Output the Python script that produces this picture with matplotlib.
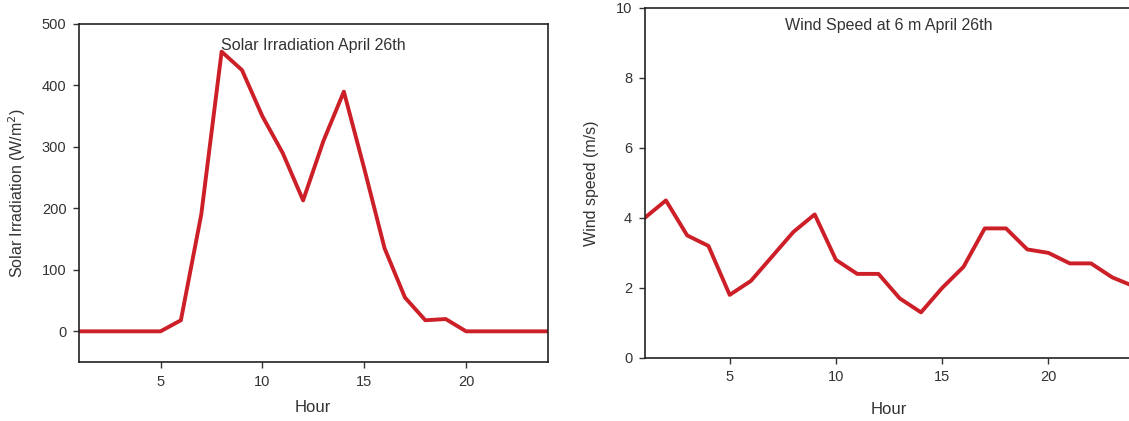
import matplotlib
matplotlib.use("Agg")
from matplotlib import pyplot as plt

plt.rcParams['font.family'] = ['Liberation Sans', 'DejaVu Sans']

hours = list(range(1, 25))
solar = [0, 0, 0, 0, 0, 18, 190, 455, 425, 350, 290, 213,
         310, 390, 265, 135, 55, 18, 20, 0, 0, 0, 0, 0]
wind = [4.0, 4.5, 3.5, 3.2, 1.8, 2.2, 2.9, 3.6, 4.1, 2.8, 2.4, 2.4,
        1.7, 1.3, 2.0, 2.6, 3.7, 3.7, 3.1, 3.0, 2.7, 2.7, 2.3, 2.05]

red = '#cc1f27'
txt = '#333333'

fig = plt.figure(figsize=(11.29, 4.21), dpi=100)

# 左图：太阳辐照
ax1 = fig.add_axes([0.070, 0.140, 0.415, 0.803])
ax1.plot(hours, solar, color=red, lw=2.8)
ax1.set_xlim(1, 24)
ax1.set_ylim(-50, 500)
ax1.set_xticks([5, 10, 15, 20])
ax1.set_yticks([0, 100, 200, 300, 400, 500])
ax1.set_xlabel('Hour', fontsize=12, color=txt, labelpad=8)
ax1.set_ylabel('Solar Irradiation (W/m$^2$)', fontsize=11.5, color=txt, labelpad=10)
ax1.text(0.5, 0.96, 'Solar Irradiation April 26th', transform=ax1.transAxes,
         ha='center', va='top', fontsize=11.5, color=txt)

# 右图：风速
ax2 = fig.add_axes([0.571, 0.150, 0.433, 0.831])
ax2.plot(hours, wind, color=red, lw=2.8)
ax2.set_xlim(1, 24)
ax2.set_ylim(0, 10)
ax2.set_xticks([5, 10, 15, 20])
ax2.set_yticks([0, 2, 4, 6, 8, 10])
ax2.set_xlabel('Hour', fontsize=12, color=txt, labelpad=13)
ax2.set_ylabel('Wind speed (m/s)', fontsize=11.5, color=txt, labelpad=12)
ax2.text(0.5, 0.97, 'Wind Speed at 6 m April 26th', transform=ax2.transAxes,
         ha='center', va='top', fontsize=11.5, color=txt)

for ax in (ax1, ax2):
    ax.tick_params(direction='out', length=4, width=1, labelsize=10.5,
                   colors=txt, pad=5)
    for s in ax.spines.values():
        s.set_linewidth(1.2)
        s.set_color('#222222')

plt.savefig('out.png', dpi=100)
